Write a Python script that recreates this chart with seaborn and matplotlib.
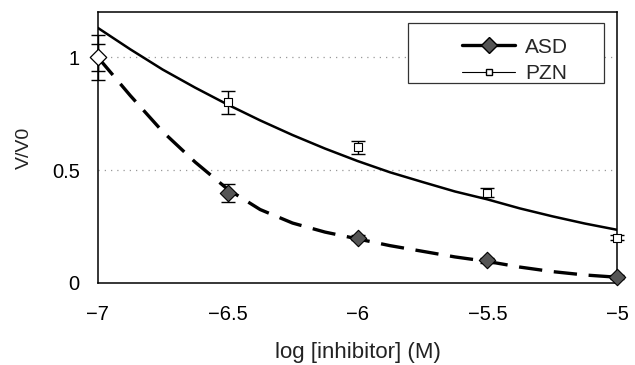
import matplotlib
matplotlib.use("Agg")
import matplotlib.pyplot as plt
import seaborn as sns
import pandas as pd
from matplotlib.lines import Line2D
from matplotlib.patches import Rectangle

sns.set_theme(style="white")
plt.rcParams['font.family'] = ['Liberation Sans', 'DejaVu Sans']

# measured points
log_conc = [-7.0, -6.5, -6.0, -5.5, -5.0]
asd_vals = [1.00, 0.40, 0.20, 0.10, 0.025]
asd_err = [0.06, 0.04, 0.01, 0.01, 0.01]
pzn_vals = [1.00, 0.80, 0.60, 0.40, 0.20]
pzn_err = [0.10, 0.05, 0.03, 0.02, 0.01]

# fitted curves
fit_x = [-7.0, -6.875, -6.75, -6.625, -6.5, -6.375, -6.25, -6.125, -6.0,
         -5.875, -5.75, -5.625, -5.5, -5.375, -5.25, -5.125, -5.0]
asd_fit = [1.00, 0.83, 0.67, 0.535, 0.415, 0.325, 0.265, 0.225, 0.195,
           0.165, 0.14, 0.115, 0.095, 0.07, 0.05, 0.035, 0.025]
pzn_fit = [1.13, 1.035, 0.945, 0.865, 0.79, 0.72, 0.655, 0.595, 0.54,
           0.49, 0.447, 0.405, 0.37, 0.33, 0.295, 0.263, 0.235]

x_ticks = [-7, -6.5, -6, -5.5, -5]
x_ticklabels = ['\u22127', '\u22126.5', '\u22126', '\u22125.5', '\u22125']
y_ticks = [0, 0.5, 1]
y_ticklabels = ['0', '0.5', '1']

fit_df = pd.DataFrame({'x': fit_x, 'ASD': asd_fit, 'PZN': pzn_fit})
pts_df = pd.DataFrame({'x': log_conc, 'ASD': asd_vals, 'PZN': pzn_vals})

fig = plt.figure(figsize=(6.35, 3.65), dpi=100)
ax = fig.add_axes([0.154, 0.225, 0.818, 0.742])

for y in [0.5, 1.0]:
    ax.axhline(y, color='#999999', linestyle=(0, (1, 4)), linewidth=0.9, zorder=0)

sns.lineplot(data=fit_df, x='x', y='PZN', ax=ax, color='black', linewidth=1.8,
             zorder=2)
sns.lineplot(data=fit_df, x='x', y='ASD', ax=ax, color='black', linewidth=2.4,
             linestyle=(0, (7, 3.5)), zorder=2)

for vals, errs in [(pzn_vals, pzn_err), (asd_vals, asd_err)]:
    eb = ax.errorbar(log_conc, vals, yerr=errs, fmt='none', ecolor='black',
                     elinewidth=1.0, capsize=5, capthick=1.0, zorder=3)
    for art in eb.lines[1] + eb.lines[2]:
        art.set_clip_on(False)

sns.scatterplot(data=pts_df, x='x', y='PZN', ax=ax, marker='s', s=30,
                facecolor='white', edgecolor='black', linewidth=0.8, zorder=4,
                clip_on=False)
sns.scatterplot(data=pts_df.iloc[1:], x='x', y='ASD', ax=ax, marker='D', s=70,
                color='#555555', edgecolor='black', linewidth=0.8, zorder=5,
                clip_on=False)
sns.scatterplot(data=pts_df.iloc[:1], x='x', y='ASD', ax=ax, marker='D', s=70,
                color='white', edgecolor='black', linewidth=0.9, zorder=5,
                clip_on=False)

ax.set_xlim(-7, -5)
ax.set_ylim(0, 1.2)
ax.set_xticks(x_ticks)
ax.set_xticklabels(x_ticklabels)
ax.set_yticks(y_ticks)
ax.set_yticklabels(y_ticklabels)
ax.tick_params(axis='both', direction='in', length=6, width=0.8,
               labelsize=14.5, colors='black')
ax.tick_params(axis='x', pad=16)
ax.tick_params(axis='y', length=0, pad=13)
for sp in ax.spines.values():
    sp.set_visible(True)
    sp.set_color('black')
    sp.set_linewidth(1.1)
ax.set_xlabel('log [inhibitor] (M)', fontsize=16, color='#222222', labelpad=13)
ax.set_ylabel('V/V0', fontsize=14, color='#222222', labelpad=14)

handles = [
    Line2D([], [], color='black', linewidth=2.4, marker='D', markersize=8,
           markerfacecolor='#555555', markeredgecolor='black'),
    Line2D([], [], color='black', linewidth=0.8, marker='s', markersize=5,
           markerfacecolor='white', markeredgecolor='black'),
]
leg = ax.legend(handles, ['ASD', 'PZN'], loc='upper left', fontsize=15,
                frameon=False, borderpad=0, handlelength=2.5,
                handletextpad=0.5, labelspacing=0.35,
                bbox_to_anchor=((452 - 98) / 519, (282 - 27) / 270))
ax.add_patch(Rectangle(((408 - 98) / 519, (282 - 83) / 270),
                       (604 - 408) / 519, (83 - 23) / 270,
                       transform=ax.transAxes, facecolor='white',
                       edgecolor='#333333', linewidth=0.9, zorder=6))
leg.set_zorder(7)

fig.savefig('out.png', dpi=100)
